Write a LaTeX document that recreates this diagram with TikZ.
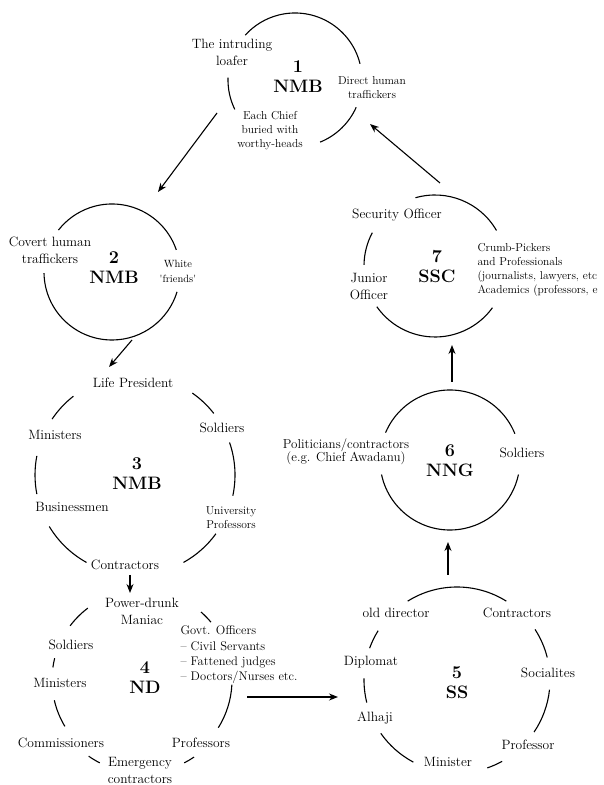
\documentclass[tikz,border=0pt]{standalone}
\usepackage{amssymb,amsmath}
\usepackage{fontspec}
\usetikzlibrary{arrows.meta}

\tikzset{
  lbl/.style={align=center, inner sep=0pt, font=\fontsize{13.5}{17}\selectfont},
  sml/.style={align=center, inner sep=0pt, font=\fontsize{11.5}{14}\selectfont},
  lst/.style={align=left, anchor=west, inner sep=0pt},
  tag/.style={align=center, inner sep=0pt, font=\fontsize{18}{20}\selectfont\bfseries},
  flow/.style={-{Stealth[length=9pt,width=7pt]}},
}

\begin{document}
\begin{tikzpicture}[x=1pt, y=1pt]
\useasboundingbox (0,0) rectangle (603,785);
\begin{scope}[line width=1.1pt]

  % circle 1
  \begin{scope}[shift={(295,705)}]
  \coordinate (c1) at (0,0);
  \draw (14:67)  arc[start angle=14,  end angle=138, radius=67];
  \draw (178:67) arc[start angle=178, end angle=206, radius=67];
  \draw (292:67) arc[start angle=292, end angle=336, radius=67];
  \node[lbl] (loafer) at (-63,28)  {The intruding\\loafer};
  \node[tag] (nmb1)   at (3,3)     {1\\NMB};
  \node[sml] (direct) at (77,-8)   {Direct human\\traffickers};
  \node[sml] (chief)  at (-25,-51) {Each Chief\\buried with\\worthy-heads};
  \end{scope}

  % circle 2
  \begin{scope}[shift={(112,513)}]
  \coordinate (c2) at (0,0);
  \draw (19:68)  arc[start angle=19,  end angle=142, radius=68];
  \draw (181:68) arc[start angle=181, end angle=343, radius=68];
  \node[lbl] (covert) at (-62,22) {Covert human\\traffickers};
  \node[tag] (nmb2)   at (2,4)    {2\\NMB};
  \node[sml, font=\fontsize{10.5}{15}\selectfont] (white) at (66,1)
       {White\\\textquotesingle friends\textquotesingle};
  \end{scope}

  % circle 3
  \begin{scope}[shift={(135,310)}]
  \coordinate (c3) at (0,0);
  \draw (128:100) arc[start angle=128, end angle=146, radius=100];
  \draw (38:100)  arc[start angle=38,  end angle=55,  radius=100];
  \draw (-12:100) arc[start angle=-12, end angle=19,  radius=100];
  \draw (-61:100) arc[start angle=-61, end angle=-36, radius=100];
  \draw (169:100) arc[start angle=169, end angle=191, radius=100];
  \draw (211:100) arc[start angle=211, end angle=241, radius=100];
  \node[lbl] (lifepres)  at (-2,92)   {Life President};
  \node[lbl] (soldiers3) at (87,47)   {Soldiers};
  \node[lbl] (ministers3) at (-80,40) {Ministers};
  \node[tag] (nmb3)      at (2,1)     {3\\NMB};
  \node[lbl] (business)  at (-63,-32) {Businessmen};
  \node[sml] (univ)      at (96,-43)  {University\\Professors};
  \node[lbl] (contr3)    at (-10,-90) {Contractors};
  \end{scope}

  % circle 4
  \begin{scope}[shift={(142,105)}]
  \coordinate (c4) at (0,0);
  \draw (127:90) arc[start angle=127, end angle=143, radius=90];
  \draw (40:90)  arc[start angle=40,  end angle=49,  radius=90];
  \draw (166:90) arc[start angle=166, end angle=172, radius=90];
  \draw (193:90) arc[start angle=193, end angle=211, radius=90];
  \draw (235:93) arc[start angle=235, end angle=243, radius=93];
  \draw (297:93) arc[start angle=297, end angle=304, radius=93];
  \draw (-32:90) arc[start angle=-32, end angle=-3,  radius=90];
  \node[lbl] (maniac)     at (0,69)    {Power-drunk\\Maniac};
  \node[lbl] (soldiers4)  at (-71,35)  {Soldiers};
  \node[lbl] (ministers4) at (-82,-3)  {Ministers};
  \node[lbl] (commiss)    at (-81,-63) {Commissioners};
  \node[lbl] (emerg)      at (-2,-90)  {Emergency\\contractors};
  \node[lbl] (prof4)      at (59,-63)  {Professors};
  \node[tag] (nd)         at (3,2)     {4\\ND};
  \node[lst, font=\fontsize{12.5}{15.3}\selectfont] (govt) at (38,25)
       {Govt. Officers\\-- Civil Servants\\-- Fattened judges\\-- Doctors/Nurses etc.};
  \end{scope}

  % circle 5
  \begin{scope}[shift={(457,105)}]
  \coordinate (c5) at (0,0);
  \draw (58:93)  arc[start angle=58,  end angle=122, radius=93];
  \draw (14:93)  arc[start angle=14,  end angle=33,  radius=93];
  \draw (-34:93) arc[start angle=-34, end angle=-6,  radius=93];
  \draw (-71:93) arc[start angle=-71, end angle=-61, radius=93];
  \draw (215:93) arc[start angle=215, end angle=242, radius=93];
  \draw (179:93) arc[start angle=179, end angle=194, radius=93];
  \draw (148:93) arc[start angle=148, end angle=160, radius=93];
  \node[lbl] (olddir)   at (-61,67)  {old director};
  \node[lbl] (contr5)   at (60,67)   {Contractors};
  \node[lbl] (diplomat) at (-86,18)  {Diplomat};
  \node[lbl] (social)   at (91,7)    {Socialites};
  \node[tag] (ss)       at (0,-3)    {5\\SS};
  \node[lbl] (alhaji)   at (-82,-38) {Alhaji};
  \node[lbl] (prof5)    at (71,-65)  {Professor};
  \node[lbl] (minister5) at (-9,-82) {Minister};
  \end{scope}

  % circle 6
  \begin{scope}[shift={(450,325)}]
  \coordinate (c6) at (0,0);
  \draw (22:70)  arc[start angle=22,  end angle=157, radius=70];
  \draw (192:70) arc[start angle=192, end angle=348, radius=70];
  \node[lbl, font=\fontsize{13}{13}\selectfont] (politic) at (-104,8)
       {Politicians/contractors\\(e.g. Chief Awadanu)};
  \node[lbl] (soldiers6) at (72,7)   {Soldiers};
  \node[tag] (nng)       at (0,-1)   {6\\NNG};
  \end{scope}

  % circle 7
  \begin{scope}[shift={(435,519)}]
  \coordinate (c7) at (0,0);
  \draw (30:71)  arc[start angle=30,  end angle=106, radius=71];
  \draw (152:71) arc[start angle=152, end angle=179, radius=71];
  \draw (215:71) arc[start angle=215, end angle=324, radius=71];
  \node[lbl] (security) at (-38,51)  {Security Officer};
  \node[lbl] (junior)   at (-66,-21) {Junior\\Officer};
  \node[tag] (ssc)      at (2,-1)    {7\\SSC};
  \node[lst, font=\fontsize{11.5}{14}\selectfont] (crumb) at (42,-4)
       {Crumb-Pickers\\and Professionals\\(journalists, lawyers, etc\\Academics (professors, e};
  \end{scope}

  % arrows between the circles
  \coordinate (o71) at (440,602); \coordinate (i71) at (370,661);
  \coordinate (o12) at (217,672); \coordinate (i12) at (158,593);
  \coordinate (o23) at (132,445); \coordinate (i23) at (109,418);
  \coordinate (o34) at (130,210); \coordinate (i34) at (130,192);
  \coordinate (o45) at (247,88);  \coordinate (i45) at (338,88);
  \coordinate (o56) at (448,210); \coordinate (i56) at (448,243);
  \coordinate (o67) at (452,403); \coordinate (i67) at (452,440);
  \draw[flow] (o71) -- (i71);
  \draw[flow] (o12) -- (i12);
  \draw[flow] (o23) -- (i23);
  \draw[flow] (o34) -- (i34);
  \draw[flow] (o45) -- (i45);
  \draw[flow] (o56) -- (i56);
  \draw[flow] (o67) -- (i67);

\end{scope}
\end{tikzpicture}
\end{document}
